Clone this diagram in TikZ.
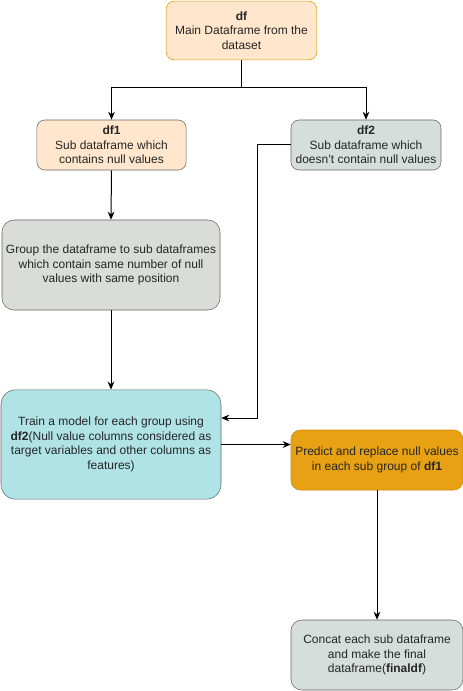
\documentclass[tikz,border=0pt]{standalone}
\usepackage{fontspec}
\setmainfont{Liberation Sans}
\usetikzlibrary{arrows.meta}
\definecolor{peach}{HTML}{FFE6CC}
\definecolor{peachline}{HTML}{D79B00}
\definecolor{greybox}{HTML}{D5DEDB}
\definecolor{greygroup}{HTML}{D9DCD8}
\definecolor{tealbox}{HTML}{B0E3E6}
\definecolor{amber}{HTML}{E8A113}
\definecolor{amberline}{HTML}{C98A0A}
\definecolor{boxline}{HTML}{666666}
\definecolor{txt}{HTML}{262626}
\begin{document}
\begin{tikzpicture}[x=0.75pt,y=-0.75pt,
    every node/.style={font=\fontsize{9}{10.9}\selectfont,text=txt,align=center},
    box/.style={draw=boxline,rectangle,rounded corners=6pt,inner sep=0pt},
    arr/.style={-{Stealth[length=6pt,width=5pt]},line width=0.75pt}]
    \useasboundingbox (0,0) rectangle (463,691);
    \node[box,fill=peach,draw=peachline,minimum width=113pt,minimum height=44pt] (df) at (241.5,30.5) {\textbf{df}\\Main Dataframe from the\\dataset};
    \node[box,fill=peach,minimum width=112pt,minimum height=37.5pt] (df1) at (111.5,145) {\textbf{df1}\\Sub dataframe which\\contains null values};
    \node[box,fill=greybox,minimum width=112.5pt,minimum height=37.5pt] (df2) at (366,145) {\textbf{df2}\\Sub dataframe which\\doesn't contain null values};
    \node[box,fill=greygroup,rounded corners=9pt,minimum width=163.5pt,minimum height=67.5pt] (group) at (111,265) {Group the dataframe to sub dataframes\\which contain same number of null\\values with same position};
    \node[box,fill=tealbox,rounded corners=11pt,minimum width=165pt,minimum height=82pt] (train) at (111,444.5) {Train a model for each group using\\\textbf{df2}(Null value columns considered as\\target variables and other columns as\\features)};
    \node[box,fill=amber,draw=amberline,rounded corners=7pt,minimum width=129pt,minimum height=45pt] (predict) at (377,460) {Predict and replace null values\\in each sub group of \textbf{df1}};
    \node[box,fill=greybox,rounded corners=8pt,minimum width=129pt,minimum height=52.5pt] (concat) at (377,655) {Concat each sub dataframe\\and make the final\\dataframe(\textbf{finaldf})};
    \coordinate (fork) at (241.5,88);
    \coordinate (bend) at (257,418);
    \draw[line width=0.75pt] (df.south) -- (fork);
    \draw[arr] (fork) -| (df1.north);
    \draw[arr] (fork) -| (df2.north);
    \draw[arr] (df1.south) -- (group.north);
    \draw[arr] (group.south) -- (train.north);
    \draw[arr] (df2.west) -| (bend) -- (train.east |- bend);
    \draw[arr] (train.east) -- (train.east -| predict.west);
    \draw[arr] (predict.south) -- (concat.north);
\end{tikzpicture}
\end{document}
